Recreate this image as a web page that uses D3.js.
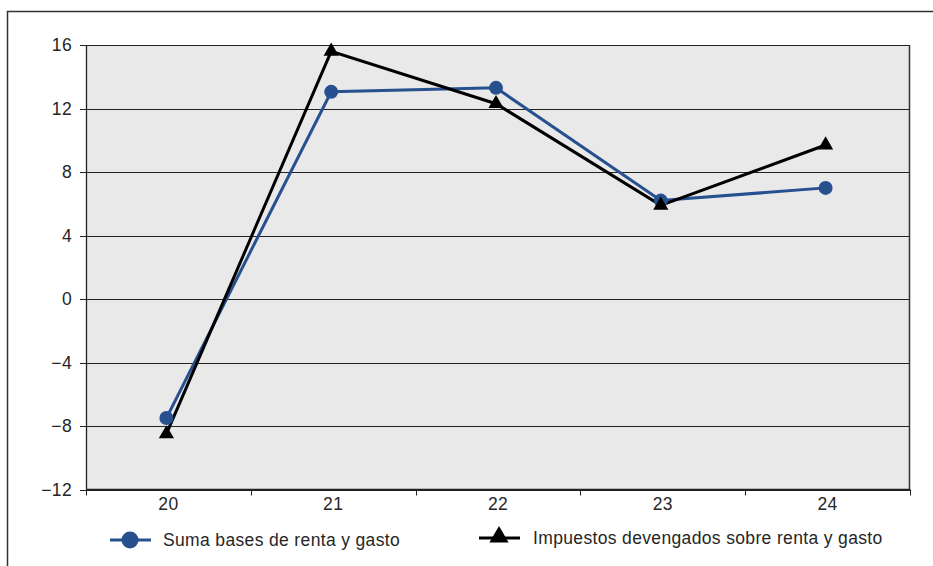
<!DOCTYPE html>
<html><head><meta charset="utf-8">
<script src="https://cdn.jsdelivr.net/npm/d3@7"></script>
<style>body{margin:0;background:#fff}svg{display:block}text{font-family:"Liberation Sans",Arial,sans-serif;fill:#262626;letter-spacing:0.35px}</style>
</head><body>
<svg id="c" width="933" height="566"></svg>
<script>
const categories = ["20","21","22","23","24"];
const sumaBases = [-7.5, 13.05, 13.3, 6.2, 7.0];
const impuestos = [-8.5, 15.6, 12.3, 5.9, 9.7];
const yTicks = [-12,-8,-4,0,4,8,12,16];
const seriesNames = ["Suma bases de renta y gasto","Impuestos devengados sobre renta y gasto"];

const svg = d3.select("#c");
const L=86, R=910, T=45, B=489.5;
const FS=17.5;
svg.append("path").attr("d","M7.5,566 L7.5,11.5 L933,11.5").attr("fill","none").attr("stroke","#333").attr("stroke-width",1.5);

const x = d3.scaleBand().domain(categories).range([L,R]);
const y = d3.scaleLinear().domain([-12,16]).range([B,T]);

svg.append("rect").attr("x",L).attr("y",T).attr("width",R-L).attr("height",B-T).attr("fill","#e9e9e9");

svg.append("g").selectAll("line").data(yTicks).join("line")
  .attr("x1",L-6).attr("x2",R).attr("y1",d=>Math.round(y(d))+0.5).attr("y2",d=>Math.round(y(d))+0.5)
  .attr("stroke","#222").attr("stroke-width",1.1);
svg.append("g").selectAll("text").data(yTicks).join("text")
  .attr("x",72).attr("y",d=>y(d)).attr("dy","0.35em").attr("text-anchor","end").attr("font-size",FS)
  .text(d=>d<0?"\u2212"+Math.abs(d):d);
svg.append("line").attr("x1",L+0.5).attr("x2",L+0.5).attr("y1",T).attr("y2",B+1).attr("stroke","#222").attr("stroke-width",1.3);
svg.append("line").attr("x1",R-0.5).attr("x2",R-0.5).attr("y1",T).attr("y2",B+1).attr("stroke","#333").attr("stroke-width",1.5);
svg.append("line").attr("x1",L).attr("x2",R).attr("y1",B).attr("y2",B).attr("stroke","#222").attr("stroke-width",1.5);
const bounds = categories.map(c=>x(c)).concat([R]);
svg.append("g").selectAll("line").data(bounds).join("line")
  .attr("x1",d=>Math.round(d)+0.5).attr("x2",d=>Math.round(d)+0.5).attr("y1",B).attr("y2",B+6).attr("stroke","#222");
svg.append("g").selectAll("text").data(categories).join("text")
  .attr("x",d=>x(d)+x.bandwidth()/2).attr("y",510).attr("text-anchor","middle").attr("font-size",FS).text(d=>d);

const cx = d=>x(d)+x.bandwidth()/2-2;
const blue="#27508f";
const line = d3.line().x((d,i)=>cx(categories[i])).y(d=>y(d));
svg.append("path").datum(sumaBases).attr("d",line).attr("fill","none").attr("stroke",blue).attr("stroke-width",3);
svg.append("path").datum(impuestos).attr("d",line).attr("fill","none").attr("stroke","#000").attr("stroke-width",3).attr("stroke-linejoin","miter");
svg.append("g").selectAll("circle").data(sumaBases).join("circle")
  .attr("cx",(d,i)=>cx(categories[i])).attr("cy",d=>y(d)).attr("r",7).attr("fill",blue);
const tri = d3.symbol().type(d3.symbolTriangle).size(100);
svg.append("g").selectAll("path").data(impuestos).join("path")
  .attr("transform",(d,i)=>`translate(${cx(categories[i])},${y(d)})`).attr("d",tri).attr("fill","#000");

const lg = svg.append("g");
lg.append("line").attr("x1",110).attr("x2",151).attr("y1",540).attr("y2",540).attr("stroke",blue).attr("stroke-width",3);
lg.append("circle").attr("cx",130).attr("cy",540).attr("r",8.5).attr("fill",blue);
lg.append("text").attr("x",163).attr("y",540).attr("dy","0.35em").attr("font-size",FS).text(seriesNames[0]);
lg.append("line").attr("x1",479).attr("x2",520).attr("y1",538).attr("y2",538).attr("stroke","#000").attr("stroke-width",3);
lg.append("path").attr("transform","translate(499,537)").attr("d",d3.symbol().type(d3.symbolTriangle).size(160)).attr("fill","#000");
lg.append("text").attr("x",533).attr("y",538).attr("dy","0.35em").attr("font-size",FS).text(seriesNames[1]);
</script>
</body></html>
